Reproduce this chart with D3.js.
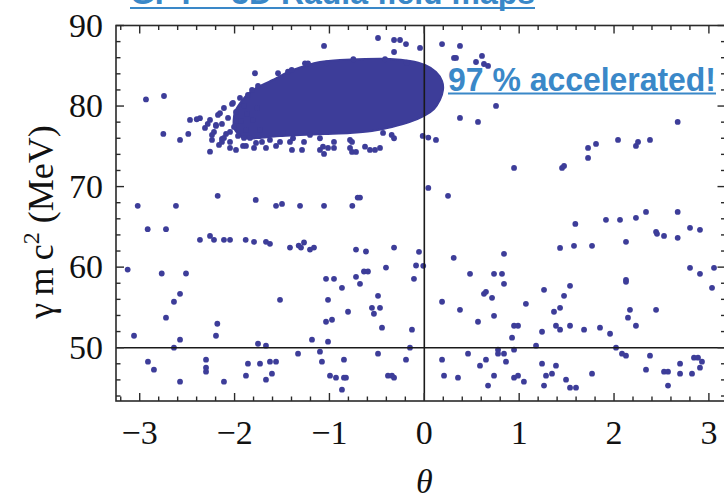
<!DOCTYPE html>
<html><head><meta charset="utf-8">
<script src="https://cdn.jsdelivr.net/npm/d3@7"></script>
<style>body{margin:0;background:#fff}svg{display:block}</style>
</head><body>
<script>
// Axis ticks and labels
const xTickValues = [-3, -2, -1, 0, 1, 2, 3];
const xTickLabels = ["\u22123", "\u22122", "\u22121", "0", "1", "2", "3"];
const yTickValues = [50, 60, 70, 80, 90];
const yTickLabels = ["50", "60", "70", "80", "90"];
const xDomain = [-3.25, 3.175];
const yDomain = [43.38, 90];

// Outline of the dense accelerated bunch core [theta, gamma]
const coreOutline = [
  [-1.996,79.27],[-1.890,81.13],[-1.753,82.37],[-1.574,83.36],[-1.416,84.35],[-1.258,84.98],
  [-1.100,85.47],[-0.889,85.72],[-0.625,85.84],[-0.362,85.84],[-0.151,85.60],
  [0.007,85.10],[0.123,84.23],[0.187,83.11],[0.197,82.00],[0.165,80.76],[0.102,79.64],
  [-0.003,78.77],[-0.151,78.03],[-0.341,77.41],[-0.552,76.91],[-0.783,76.66],[-1.047,76.54],
  [-1.310,76.41],[-1.521,76.29],[-1.732,76.04],[-1.911,76.04],[-2.006,77.28]
];

// Particles in the looser tail of the bunch
const bunchTail = [
  [-2.312,77.28],[-2.259,78.28],[-2.238,75.79],[-2.217,76.79],[-2.175,78.90],[-2.164,75.17],
  [-2.133,77.78],[-2.112,79.76],[-2.090,76.54],[-2.069,78.52],[-2.048,75.55],[-2.027,80.26],
  [-2.006,77.41],[-1.985,79.27],[-1.964,76.29],[-1.943,81.01],[-1.932,78.15],[-1.911,75.05],
  [-1.901,80.01],[-1.880,77.04],[-1.869,79.02],[-1.859,81.38],[-1.837,76.04],[-1.816,82.00],
  [-1.806,78.28],[-1.774,75.42],[-1.764,79.76],[-1.753,82.49],[-1.732,77.04],[-1.985,78.15],
  [-2.048,76.79],[-1.901,76.04],[-2.133,75.92],[-2.196,77.53]
];

// Particles around the edge of the bunch
const bunchEdge = [
  [-1.258,85.31],[-1.029,85.31],[-0.748,85.81],[-0.414,85.81],[-0.186,85.38],
  [-1.785,84.07],[-1.542,84.07],[-1.437,84.27],[-1.398,84.48],[-1.226,85.31],
  [-2.751,76.54],[-2.575,75.79],[-2.488,76.54],[-2.259,74.34],[-2.283,77.78],[-2.470,78.28],
  [-2.399,78.36],[-2.365,78.49],[-2.154,79.11],[-2.017,80.38],
  [-2.196,77.65],[-2.238,76.41],[-2.133,75.55],[-2.048,74.80],[-1.985,74.55],[-1.880,75.05],
  [-1.795,74.80],[-1.711,75.55],[-1.669,74.80],[-1.627,75.79],[-1.563,75.05],[-1.521,75.55],
  [-1.416,75.55],[-1.395,74.55],[-1.289,74.55],[-1.268,75.55],[-1.205,76.41],[-1.100,76.00],
  [-1.100,74.55],[-1.057,74.06],[-1.068,74.96],[-1.015,74.80],[-0.952,75.55],[-0.952,74.80],
  [-0.783,75.79],[-0.783,74.80],[-0.762,75.55],[-0.762,74.30],[-0.720,74.30],[-0.625,74.96],
  [-0.573,74.55],[-0.520,74.55],[-0.467,74.80],[-0.435,76.66],[-0.344,76.41],[-0.319,76.00],
  [-2.112,76.04],[-1.490,76.66],[-1.384,76.00],
  [-0.017,76.29],[0.042,76.08],[0.123,75.79]
];

// Scattered particles above gamma = 70
const upperScatter = [
  [-2.934,80.82],[-2.744,81.25],[-1.057,87.46],[-0.488,88.45],[-0.319,88.20],[-0.256,88.20],
  [-0.193,87.70],[-0.045,87.21],[-0.319,86.71],[0.187,87.70],[0.376,87.46],[0.313,85.97],
  [0.334,85.97],[0.545,85.47],[0.608,86.22],[0.629,85.22],[0.672,84.98],
  [0.376,78.52],[0.566,78.03],[0.756,80.01],
  [2.671,78.03],[1.726,74.80],[1.810,75.30],[2.042,75.79],[2.231,75.05],[2.253,75.55],
  [2.379,75.79],[1.726,73.56],[0.946,72.32],[1.452,72.32],[1.473,72.57]
];

// Scattered particles between gamma = 50 and 70
const middleScatter = [
  [0.042,69.84],[0.250,68.85],
  [1.592,65.37],[1.915,65.87],[2.063,65.87],[2.231,66.12],[2.337,66.86],[2.671,66.86],
  [2.443,64.38],[2.453,64.13],[2.527,63.88],[2.671,63.64],[2.801,64.88],[2.906,64.63],
  [2.126,63.14],[1.431,62.39],[1.578,62.65],[1.768,62.65],[0.840,61.65],[0.310,61.15],
  [-0.056,61.90],[-0.011,60.16],[0.482,59.17],[0.735,59.17],[0.819,59.17],[2.801,59.91],
  [2.906,59.17],[3.054,59.91],[2.126,58.42],
  [0.840,57.93],[0.629,56.69],[0.650,56.93],[0.714,56.19],[0.187,55.70],[0.376,54.70],
  [0.566,53.22],[0.735,53.96],[1.071,55.45],[1.262,57.18],[1.473,56.44],[1.536,57.68],
  [1.367,54.46],[1.431,54.95],[0.946,52.72],[0.988,52.72],[1.388,52.72],[1.431,52.23],
  [1.536,52.72],[1.241,51.98],[1.684,52.23],[1.852,52.48],[1.958,51.73],[0.925,51.24],
  [1.178,50.25],[2.126,58.18],[2.168,54.70],[2.147,53.72],[2.231,52.72],[2.443,54.70],
  [3.033,57.43],
  [-2.178,68.85],[-3.021,67.61],[-2.618,67.61],[-1.777,68.35],[-1.563,67.61],[-1.500,67.85],
  [-1.310,67.61],[-1.057,67.61],[-0.759,67.61],[-0.702,68.64],[-0.678,68.64],
  [-2.916,64.71],[-2.723,64.71],[-2.365,63.39],[-2.259,63.88],[-2.217,63.39],[-2.112,63.39],
  [-2.048,63.39],[-1.883,63.39],[-1.795,63.14],[-1.669,63.14],[-1.627,62.90],[-1.416,62.43],
  [-1.324,62.68],[-1.300,62.43],[-1.268,63.06],[-1.205,62.18],[-1.163,62.43],[-0.720,62.18],
  [-0.615,61.94],[-0.319,62.43],
  [-3.127,59.70],[-2.768,59.21],[-2.512,59.21],[-1.036,58.55],[-0.952,58.55],[-0.720,58.80],
  [-0.636,59.46],[-0.594,59.46],[-0.404,59.95],[-0.087,60.20],[-0.109,58.55],
  [-2.575,56.69],[-2.639,55.70],[-2.723,53.72],[-3.060,51.48],[-2.575,50.99],[-2.639,50.00],
  [-2.182,52.97],[-2.196,51.48],[-1.521,55.94],[-0.868,57.43],[-0.678,57.93],[-1.015,55.94],
  [-1.036,53.22],[-0.973,53.47],[-0.804,54.46],[-0.488,56.44],[-0.552,54.95],[-0.467,54.95],
  [-0.531,54.21],[-0.446,52.48],[-0.130,52.23],[-1.184,50.99],[-1.015,50.74],[-1.753,50.49],
  [-1.669,50.25],[-0.151,50.00]
];

// Scattered particles below gamma = 50
const lowerScatter = [
  [0.946,49.75],[0.187,48.51],[0.208,46.53],[0.355,46.28],[0.461,49.25],[0.587,47.77],
  [0.650,48.51],[0.672,45.29],[0.735,46.53],[0.777,49.75],[0.777,49.25],[0.840,49.25],
  [0.861,48.26],[0.946,46.28],[0.988,46.53],[1.050,45.78],[1.241,48.01],[1.262,45.29],
  [1.283,46.53],[1.346,46.77],[1.388,47.77],[1.494,46.03],[1.536,45.04],[1.599,45.04],
  [1.768,46.77],[2.021,50.00],[2.084,49.25],[2.126,49.01],[2.379,49.01],[2.337,47.27],
  [2.527,47.02],[2.569,47.02],[2.569,45.29],[2.696,48.01],[2.696,46.77],[2.822,46.77],
  [2.843,48.76],[2.885,48.76],[2.927,48.26],[2.906,47.52],
  [-2.913,48.26],[-2.850,47.27],[-2.575,45.78],[-2.301,48.51],[-2.301,47.52],[-2.301,47.02],
  [-2.112,45.78],[-1.880,46.53],[-1.859,48.01],[-1.732,48.01],[-1.627,48.26],[-1.563,48.26],
  [-1.606,46.77],[-1.669,46.03],[-1.331,49.25],[-1.100,49.50],[-1.079,48.26],[-0.994,46.53],
  [-0.931,46.28],[-0.847,48.51],[-0.847,46.28],[-0.826,46.28],[-0.868,44.79],[-0.488,49.25],
  [-0.383,46.53],[-0.341,46.53],[-0.319,46.28],[-0.193,48.51]
];

const W = 724, H = 499;
const plot = {left: 116, right: 725.5, top: 25.5, bottom: 401};
const dotColor = "#3d3d99";
const textBlue = "#3a88c8";
const serif = "'Liberation Serif', 'Times New Roman', serif";
const sans = "'Liberation Sans Narrow', 'Liberation Sans', Arial, sans-serif";

const svg = d3.select("body").append("svg").attr("width", W).attr("height", H);

const x = d3.scaleLinear().domain(xDomain).range([plot.left, plot.right]);
const y = d3.scaleLinear().domain(yDomain).range([plot.bottom, plot.top]);

svg.append("clipPath").attr("id", "plot-clip").append("rect")
  .attr("x", plot.left).attr("y", plot.top)
  .attr("width", plot.right - plot.left).attr("height", plot.bottom - plot.top);

const g = svg.append("g").attr("clip-path", "url(#plot-clip)");

// dense bunch core
g.append("path")
  .datum(coreOutline)
  .attr("d", d3.line().x(d => x(d[0])).y(d => y(d[1])).curve(d3.curveCardinalClosed.tension(0.3)))
  .attr("fill", dotColor).attr("stroke", dotColor).attr("stroke-width", 2);

// individual particles
const allDots = bunchTail.concat(bunchEdge, upperScatter, middleScatter, lowerScatter);
g.selectAll("circle.p").data(allDots).join("circle")
  .attr("class", "p")
  .attr("cx", d => x(d[0])).attr("cy", d => y(d[1])).attr("r", 2.9)
  .attr("fill", dotColor);

// grid lines at theta = 0 and gamma = 50
g.append("line").attr("x1", x(0)).attr("x2", x(0)).attr("y1", plot.top).attr("y2", plot.bottom)
  .attr("stroke", "#1a1a1a").attr("stroke-width", 1.6);
g.append("line").attr("x1", plot.left).attr("x2", plot.right).attr("y1", y(50)).attr("y2", y(50))
  .attr("stroke", "#1a1a1a").attr("stroke-width", 1.6);

// frame
svg.append("rect").attr("x", plot.left).attr("y", plot.top)
  .attr("width", plot.right - plot.left).attr("height", plot.bottom - plot.top)
  .attr("fill", "none").attr("stroke", "#2a2a2a").attr("stroke-width", 1.6);

// ticks on all four sides, pointing inward
const xMinor = d3.range(-16, 16).map(i => i * 0.2).filter(v => v > xDomain[0] && v < xDomain[1]);
const yMinor = d3.range(22, 46).map(i => i * 2).filter(v => v > yDomain[0] && v <= yDomain[1]);
const tickG = svg.append("g").attr("stroke", "#2a2a2a").attr("stroke-width", 1.4);
const isMajorX = v => Math.abs(v - Math.round(v)) < 1e-6;
xMinor.forEach(v => {
  const len = isMajorX(v) ? 8 : 4.5;
  tickG.append("line").attr("x1", x(v)).attr("x2", x(v)).attr("y1", plot.bottom).attr("y2", plot.bottom - len);
  tickG.append("line").attr("x1", x(v)).attr("x2", x(v)).attr("y1", plot.top).attr("y2", plot.top + len);
});
yMinor.forEach(v => {
  const len = v % 10 === 0 ? 8 : 4.5;
  tickG.append("line").attr("x1", plot.left).attr("x2", plot.left + len).attr("y1", y(v)).attr("y2", y(v));
  tickG.append("line").attr("x1", plot.right).attr("x2", plot.right - len).attr("y1", y(v)).attr("y2", y(v));
});

// tick labels
svg.append("g").selectAll("text").data(xTickValues).join("text")
  .attr("x", d => x(d)).attr("y", 444)
  .attr("text-anchor", "middle")
  .attr("font-family", serif).attr("font-size", 34).attr("fill", "#111")
  .text((d, i) => xTickLabels[i]);

svg.append("g").selectAll("text").data(yTickValues).join("text")
  .attr("x", 103).attr("y", d => y(d) + 11)
  .attr("text-anchor", "end")
  .attr("font-family", serif).attr("font-size", 34).attr("fill", "#111")
  .text((d, i) => yTickLabels[i]);

// axis titles
svg.append("text").attr("x", x(0)).attr("y", 493).attr("text-anchor", "middle")
  .attr("font-family", serif).attr("font-style", "italic").attr("font-size", 34).attr("fill", "#111")
  .text("\u03b8");

const yl = svg.append("text").attr("transform", "translate(53,222) rotate(-90)")
  .attr("text-anchor", "middle").attr("font-family", serif).attr("font-size", 36).attr("fill", "#111");
yl.append("tspan").text("\u03b3\u2009m\u2009c");
yl.append("tspan").attr("font-size", 24).attr("dy", -14).text("2");
yl.append("tspan").attr("dy", 14).text(" (MeV)");

// headline text
svg.append("text").attr("x", 130).attr("y", 4)
  .attr("font-family", sans).attr("font-weight", "bold").attr("font-size", 33)
  .attr("fill", textBlue).attr("textLength", 405).attr("lengthAdjust", "spacingAndGlyphs")
  .text("GPT \u2013 3D Radia field maps");
svg.append("rect").attr("x", 130).attr("y", 7).attr("width", 405).attr("height", 2).attr("fill", textBlue);

svg.append("text").attr("x", 448).attr("y", 90.5)
  .attr("font-family", sans).attr("font-weight", "bold").attr("font-size", 33)
  .attr("fill", textBlue).attr("textLength", 268).attr("lengthAdjust", "spacingAndGlyphs")
  .text("97 % accelerated!");
svg.append("rect").attr("x", 448).attr("y", 92.5).attr("width", 268).attr("height", 2).attr("fill", textBlue);
</script>
</body></html>
